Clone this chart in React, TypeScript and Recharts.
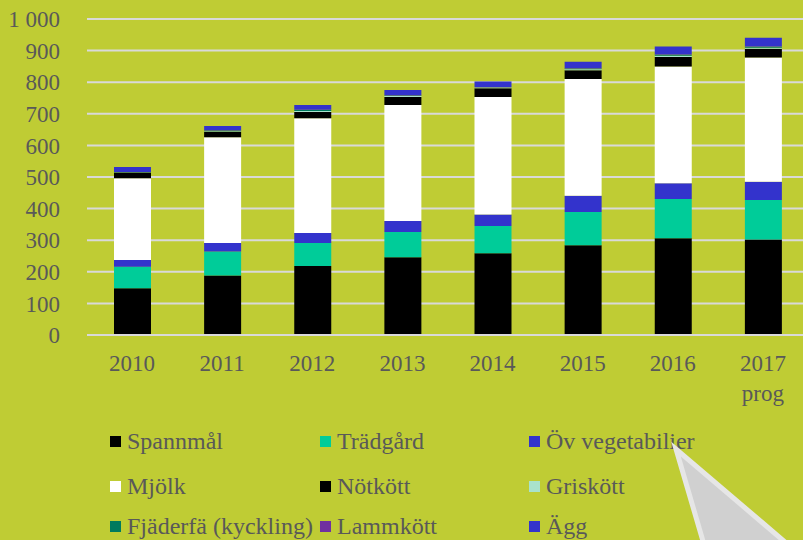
import React from 'react';
import { BarChart, Bar, XAxis, YAxis, CartesianGrid } from 'recharts';

// values (stacked, bottom to top)
const years = ['2010', '2011', '2012', '2013', '2014', '2015', '2016', '2017 prog'];
const spannmal = [148, 188, 218, 246, 259, 284, 306, 302];
const tradgard = [68, 76, 73, 80, 86, 105, 124, 125];
const ovVeg = [21, 27, 32, 35, 36, 52, 50, 58];
const mjolk = [259, 335, 363, 367, 372, 369, 370, 393];
const notkott = [18, 17, 20, 25, 28, 28, 30, 28];
const griskott = [1, 2, 3, 3, 2, 3, 4, 3];
const fjaderfa = [1, 2, 3, 2, 1, 2, 3, 3];
const lammkott = [0, 1, 1, 1, 1, 1, 1, 1];
const agg = [16, 13, 15, 16, 17, 21, 25, 28];
const yTicks = [0, 100, 200, 300, 400, 500, 600, 700, 800, 900, 1000];

const series = [
  { key: 'spannmal', name: 'Spannmål', color: '#000000', values: spannmal },
  { key: 'tradgard', name: 'Trädgård', color: '#00cc99', values: tradgard },
  { key: 'ovVeg', name: 'Öv vegetabilier', color: '#3333cc', values: ovVeg },
  { key: 'mjolk', name: 'Mjölk', color: '#ffffff', values: mjolk },
  { key: 'notkott', name: 'Nötkött', color: '#000000', values: notkott },
  { key: 'griskott', name: 'Griskött', color: '#a9e2cc', values: griskott },
  { key: 'fjaderfa', name: 'Fjäderfä (kyckling)', color: '#007a5e', values: fjaderfa },
  { key: 'lammkott', name: 'Lammkött', color: '#7030a0', values: lammkott },
  { key: 'agg', name: 'Ägg', color: '#3333cc', values: agg },
];

const data = years.map((year, i) => {
  const row: Record<string, string | number> = { year };
  series.forEach((s) => {
    row[s.key] = s.values[i];
  });
  return row;
});

const FONT = '"Liberation Serif", "Times New Roman", serif';
const TEXT = '#595959';
const FS = 23;

const YearTick = (props: any) => {
  const { x, y, payload } = props;
  const lines = String(payload.value).split(' ');
  return (
    <text x={x} y={y} textAnchor="middle" fill={TEXT} fontFamily={FONT} fontSize={FS}>
      {lines.map((l, i) => (
        <tspan key={i} x={x} dy={i === 0 ? 28 : 30}>
          {l}
        </tspan>
      ))}
    </text>
  );
};

const legendCols = [110, 320, 529];
const legendRows = [441, 486, 526];

export default function App() {
  return (
    <div
      style={{
        position: 'absolute',
        left: 0,
        top: 0,
        width: 803,
        height: 540,
        overflow: 'hidden',
        background: '#bfcc34',
        fontFamily: FONT,
      }}
    >
      <BarChart
        width={820}
        height={420}
        data={data}
        margin={{ top: 19, right: 12, left: 0, bottom: 0 }}
        barSize={37}
      >
        <CartesianGrid vertical={false} stroke="#d9d9d9" strokeWidth={2} />
        <XAxis
          dataKey="year"
          height={85}
          interval={0}
          tickLine={false}
          axisLine={{ stroke: '#d9d9d9', strokeWidth: 2 }}
          tick={<YearTick />}
        />
        <YAxis
          width={87}
          domain={[0, 1000]}
          ticks={yTicks}
          interval={0}
          tickLine={false}
          axisLine={false}
          tickMargin={21}
          tick={{ fill: TEXT, fontSize: FS, fontFamily: FONT }}
          tickFormatter={(v: number) => (v >= 1000 ? '1 000' : String(v))}
        />
        {series.map((s) => (
          <Bar
            key={s.key}
            dataKey={s.key}
            name={s.name}
            stackId="a"
            fill={s.color}
            isAnimationActive={false}
          />
        ))}
      </BarChart>

      {series.map((s, i) => {
        const col = i % 3;
        const row = Math.floor(i / 3);
        return (
          <div
            key={s.key}
            style={{
              position: 'absolute',
              left: legendCols[col],
              top: legendRows[row] - 14,
              height: 28,
              display: 'flex',
              alignItems: 'center',
              whiteSpace: 'nowrap',
              color: TEXT,
              fontSize: 24,
            }}
          >
            <span
              style={{
                display: 'inline-block',
                width: 11,
                height: 11,
                background: s.color,
                marginRight: 6,
              }}
            />
            {s.name}
          </div>
        );
      })}

      <svg
        width={803}
        height={540}
        style={{ position: 'absolute', left: 0, top: 0, pointerEvents: 'none' }}
      >
        <polygon
          points="676,449 705,548 792,548"
          fill="#d0d0d0"
          stroke="#e6e6e6"
          strokeWidth={5}
          strokeLinejoin="miter"
        />
      </svg>
    </div>
  );
}
